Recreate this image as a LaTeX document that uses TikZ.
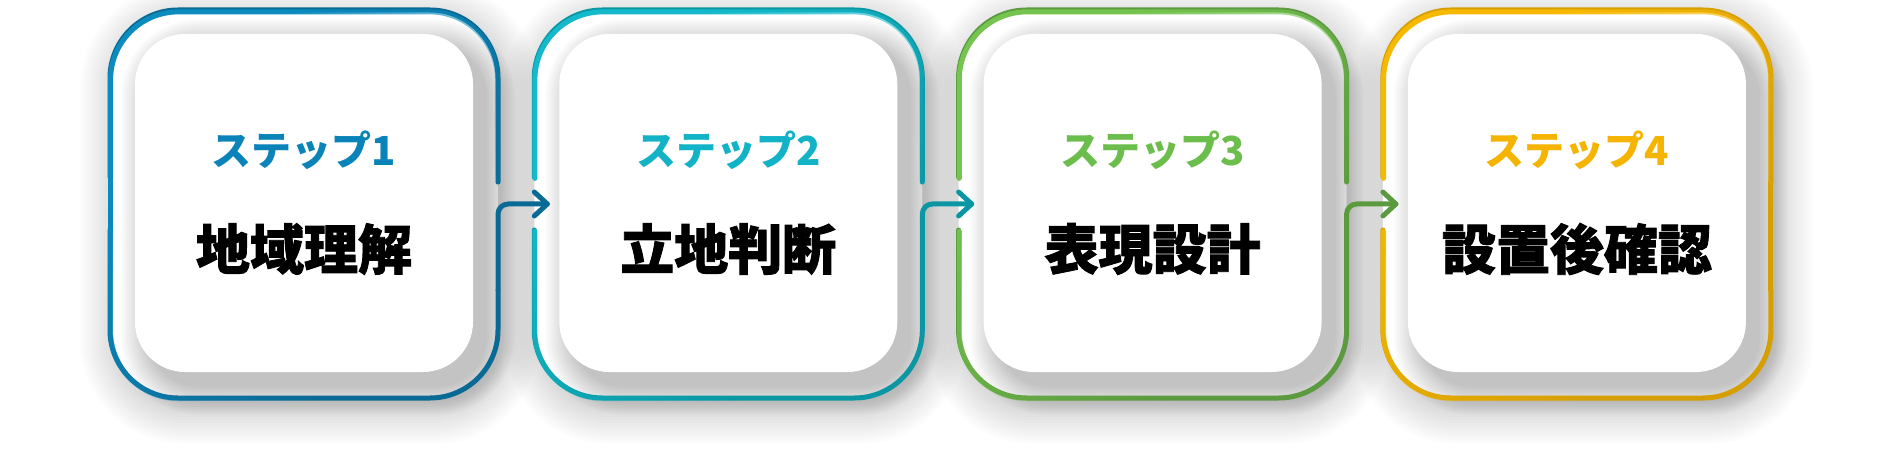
\documentclass[tikz,border=0pt]{standalone}
\usepackage{fontspec}
\newfontfamily\jp{Noto Sans CJK JP}
\newfontfamily\jph{Noto Sans CJK JP}[BoldFeatures={FakeBold=1.6}]
\usetikzlibrary{fadings}
\definecolor{tA}{HTML}{0A84B8}
\definecolor{tB}{HTML}{12B3C6}
\definecolor{tC}{HTML}{6CBE4C}
\definecolor{tD}{HTML}{F5B400}
\definecolor{lA}{HTML}{0B8BBE}
\definecolor{dA}{HTML}{0A6A96}
\definecolor{lB}{HTML}{14BACB}
\definecolor{dB}{HTML}{0A97A3}
\definecolor{lC}{HTML}{74C44F}
\definecolor{dC}{HTML}{5B9A3E}
\definecolor{lD}{HTML}{F7B900}
\definecolor{dD}{HTML}{D69E00}
\tikzset{
  rim/.style={line width=5pt, line cap=round, line join=round},
  card/.style={fill=white, rounded corners=50pt, minimum width=338pt, minimum height=338pt, inner sep=0pt},
  steplabel/.style={font=\jp\bfseries\fontsize{40pt}{44pt}\selectfont, inner sep=0pt},
  maintext/.style={font=\jph\bfseries\fontsize{54pt}{58pt}\selectfont, inner sep=0pt, text=black},
}
\begin{document}
\begin{tikzpicture}[x=1pt,y=-1pt]
\useasboundingbox (0,0) rectangle (1883,457);
\fill[white] (0,0) rectangle (1883,457);
% outer soft shadows and fills
\foreach \i in {0,1,2,3}{
  \pgfmathsetmacro\L{110+424.3*\i}
  \pgfmathsetmacro\R{\L+388}
  \foreach \k in {0,...,12}{
    \pgfmathsetmacro\e{3*\k}
    \fill[black, opacity=0.011, rounded corners=68+\e] (\L+6-\e,20-\e) rectangle (\R+6+\e,408+\e);
  }
  \fill[white, rounded corners=68pt] (\L,10) rectangle (\R,398);
}
% card shadows and cards
\foreach \i in {0,1,2,3}{
  \pgfmathsetmacro\L{110+424.3*\i}
  \pgfmathsetmacro\C{\L+194}
  \foreach \k in {0,...,14}{
    \pgfmathsetmacro\e{2*\k}
    \fill[black, opacity=0.016, rounded corners=50+\e] (\L+39-\e,47-\e) rectangle (\L+377+\e,387+\e);
  }
  \node[card] (card\i) at (\C,203) {};
}
% rims, arrows and texts
\foreach \i/\tc/\lc/\dc/\num/\main in {0/tA/lA/dA/1/地域理解, 1/tB/lB/dB/2/立地判断, 2/tC/lC/dC/3/表現設計, 3/tD/lD/dD/4/設置後確認}{
  \pgfmathsetmacro\L{110+424.3*\i}
  \pgfmathsetmacro\R{\L+388}
  \pgfmathsetmacro\C{\L+194}
  \pgfmathsetmacro\T{110+424.3*(\i+1)+13}
  \node[steplabel, text=\tc] (lab\i) at (\C,150) {ステップ\num};
  \node[maintext] (main\i) at (\C,249) {\main};
  \coordinate (out\i) at (\R,204);
  \coordinate (tip\i) at (\T,204);
  \foreach \layer in {0,1}{
    \ifnum\layer=0
      \tikzset{rimcol/.style={rim, draw=\dc}}
    \else
      \tikzset{rimcol/.style={rim, draw=\lc, path fading=south, fit fading=false,
        fading transform={shift={(\C,204)}, rotate=45, scale=6}}}
    \fi
    \draw[rimcol, rounded corners=68pt] (\R,182) -- (\R,10) -- (\L,10) -- (\L,177);
    \draw[rimcol, rounded corners=68pt] (\L,230) -- (\L,398) -- (\R,398) -- (\R,290);
    \ifnum\i=0
      \draw[rimcol] (\L,177) -- (\L,230);
    \fi
    \ifnum\i<3
      \draw[rimcol, rounded corners=10pt] (\R,290) -- (out\i) -- (tip\i);
      \draw[rimcol] ([shift={(-13,-12)}]tip\i) -- (tip\i) -- ([shift={(-13,12)}]tip\i);
    \else
      \draw[rimcol] (\R,290) -- (\R,182);
    \fi
  }
}
\end{tikzpicture}
\end{document}
